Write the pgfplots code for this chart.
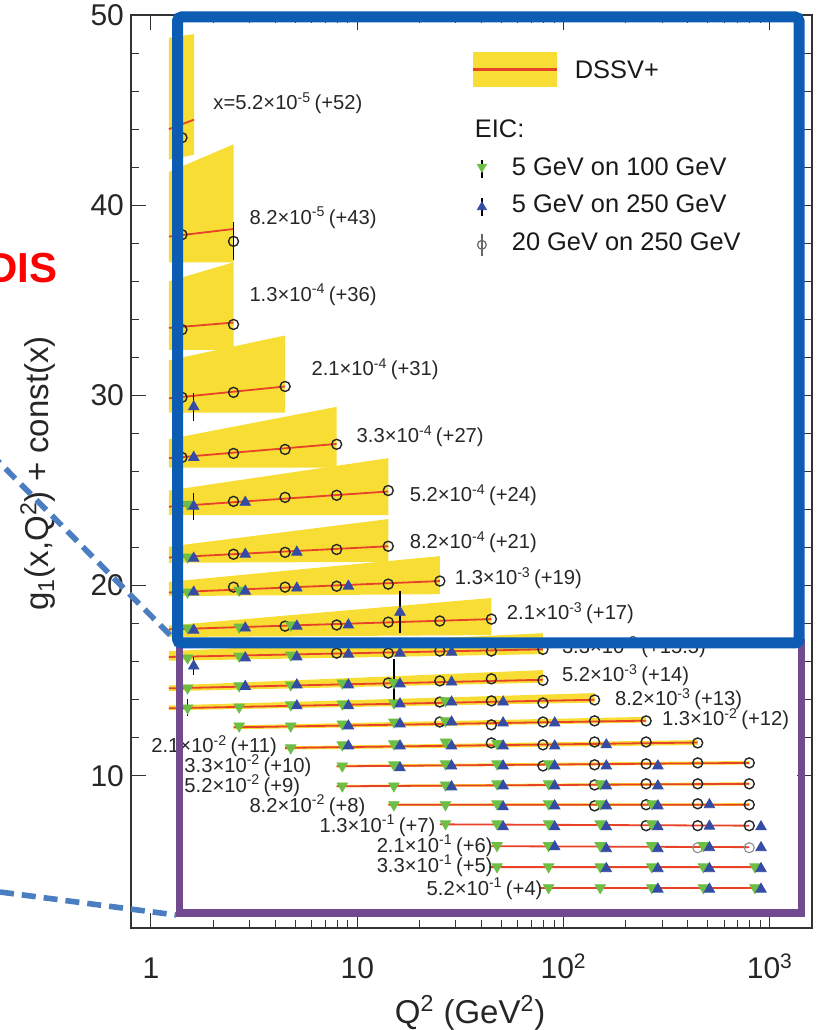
\documentclass[border=0pt]{standalone}
\usepackage{fontspec}
\setmainfont{Liberation Sans}
\usepackage{pgfplots}
\pgfplotsset{compat=1.18}
\definecolor{dssvyellow}{RGB}{248,221,52}
\definecolor{dssvred}{RGB}{232,66,40}
\definecolor{eicgreen}{RGB}{108,190,69}
\definecolor{eicblue}{RGB}{52,76,163}
\definecolor{boxblue}{RGB}{12,92,180}
\definecolor{boxpurple}{RGB}{113,74,143}
\definecolor{dashblue}{RGB}{74,126,193}
\newcommand{\rowfont}{\fontsize{10.1}{11}\selectfont}
\newcommand{\xe}[1]{\texttimes10\textsuperscript{#1}}
\begin{document}
\begin{tikzpicture}
\path[use as bounding box] (0,0) rectangle (408.5pt,515pt);
\begin{axis}[
  at={(65.5pt,51pt)}, anchor=south west,
  scale only axis, width=340.5pt, height=456.5pt,
  xmode=log, xmin=0.8, xmax=1600, ymin=2, ymax=50,
  xtick={1,10,100,1000},
  xticklabels={1,10,10\textsuperscript{2},10\textsuperscript{3}},
  ytick={10,20,30,40,50}, minor y tick num=4,
  tick align=inside, major tick length=7.5pt, minor tick length=4pt,
  tick style={black!80, line width=0.5pt},
  axis line style={black!80, line width=0.6pt},
  /pgf/number format/assume math mode=true,
  tick label style={font=\fontsize{15}{15}\selectfont, text=black!85},
  xticklabel style={anchor=base, yshift=-25.5pt},
  xlabel={Q\textsuperscript{2} (GeV\textsuperscript{2})},
  ylabel={g\textsubscript{1}(x,Q\textsuperscript{2}) + const(x)},
  xlabel style={at={(axis description cs:0.498,-0.093)}, anchor=center, font=\fontsize{16.5}{17}\selectfont, text=black!85},
  ylabel style={at={(axis description cs:-0.1366,0.498)}, anchor=center, font=\fontsize{16.5}{17}\selectfont, text=black!85},
  legend style={at={(rel axis cs:0.505,0.9496)}, anchor=north west, draw=none, fill=none,
     inner sep=0pt, outer sep=0pt, font=\fontsize{12.7}{15}\selectfont,
     column sep=11.5pt, row sep=7pt, nodes={inner sep=0pt, text depth=, text=black!90}},
  legend cell align=left,
]
% ---- DSSV+ bands
\addplot[forget plot, fill=dssvyellow, draw=none] coordinates {(1.222,42.4) (1.618,42.65) (1.618,49.0) (1.222,48.8)} -- cycle;
\addplot[forget plot, fill=dssvyellow, draw=none] coordinates {(1.222,37.0) (2.512,37.0) (2.512,43.2) (1.222,41.75)} -- cycle;
\addplot[forget plot, fill=dssvyellow, draw=none] coordinates {(1.222,32.4) (2.512,32.4) (2.512,37.0) (1.222,36.0)} -- cycle;
\addplot[forget plot, fill=dssvyellow, draw=none] coordinates {(1.222,29.1) (4.467,29.1) (4.467,33.15) (1.222,31.85)} -- cycle;
\addplot[forget plot, fill=dssvyellow, draw=none] coordinates {(1.222,26.2) (7.943,26.2) (7.943,29.4) (1.222,27.7)} -- cycle;
\addplot[forget plot, fill=dssvyellow, draw=none] coordinates {(1.222,23.7) (14.13,23.7) (14.13,26.7) (1.222,25.0)} -- cycle;
\addplot[forget plot, fill=dssvyellow, draw=none] coordinates {(1.222,21.2) (14.13,21.25) (14.13,23.5) (1.222,22.05)} -- cycle;
\addplot[forget plot, fill=dssvyellow, draw=none] coordinates {(1.222,19.45) (25.12,19.55) (25.12,21.55) (1.222,20.2)} -- cycle;
\addplot[forget plot, fill=dssvyellow, draw=none] coordinates {(1.222,17.3) (44.67,17.4) (44.67,19.35) (1.222,17.9)} -- cycle;
\addplot[forget plot, fill=dssvyellow, draw=none] coordinates {(1.222,16.05) (79.43,16.4) (79.43,17.5) (1.222,16.55)} -- cycle;
\addplot[forget plot, fill=dssvyellow, draw=none] coordinates {(1.222,14.45) (79.43,14.9) (79.43,15.56) (1.222,14.75)} -- cycle;
\addplot[forget plot, fill=dssvyellow, draw=none] coordinates {(1.222,13.45) (141.3,13.85) (141.3,14.35) (1.222,13.7)} -- cycle;
\addplot[forget plot, fill=dssvyellow, draw=none] coordinates {(2.512,12.45) (251.2,12.8) (251.2,13.1) (2.512,12.65)} -- cycle;
\addplot[forget plot, fill=dssvyellow, draw=none] coordinates {(4.467,11.38) (446.7,11.62) (446.7,11.88) (4.467,11.55)} -- cycle;
\addplot[forget plot, fill=dssvyellow, draw=none] coordinates {(7.943,10.45) (794.3,10.6) (794.3,10.78) (7.943,10.58)} -- cycle;
\addplot[forget plot, fill=dssvyellow, draw=none] coordinates {(7.943,9.4) (794.3,9.5) (794.3,9.66) (7.943,9.52)} -- cycle;
\addplot[forget plot, fill=dssvyellow, draw=none] coordinates {(14.13,8.42) (794.3,8.42) (794.3,8.56) (14.13,8.54)} -- cycle;
% ---- DSSV+ central curves
\addplot[forget plot, dssvred, line width=0.9pt, unbounded coords=jump] coordinates {
(1.222,44.0)(1.618,44.5) (1,nan)
(1.222,38.35)(2.512,38.75) (1,nan)
(1.222,33.55)(2.512,33.83) (1,nan)
(1.222,29.85)(4.467,30.47) (1,nan)
(1.222,26.7)(7.943,27.45) (1,nan)
(1.222,24.15)(14.13,24.95) (1,nan)
(1.222,21.48)(14.13,22.07) (1,nan)
(1.222,19.64)(25.12,20.24) (1,nan)
(1.222,17.7)(44.67,18.24) (1,nan)
(1.222,16.25)(79.43,16.65) (1,nan)
(1.222,14.6)(79.43,15.05) (1,nan)
(1.222,13.55)(141.3,14.0) (1,nan)
(2.512,12.55)(251.2,12.9) (1,nan)
(4.467,11.47)(446.7,11.75) (1,nan)
(7.943,10.5)(794.3,10.68) (1,nan)
(7.943,9.45)(794.3,9.58) (1,nan)
(14.13,8.48)(794.3,8.48) (1,nan)
(25.12,7.45)(794.3,7.38) (1,nan)
(44.67,6.3)(794.3,6.25) (1,nan)
(43.7,5.2)(818,5.2) (1,nan)
(76.4,4.1)(818,4.1)
};
% ---- error bars
\addplot[forget plot, draw=none, mark=none, error bars/.cd, y dir=both, y explicit, error mark=none,
  error bar style={black, line width=0.7pt}] coordinates {
(2.512,38.1) +- (0,1.0)
(1.611,29.4) +- (0,0.75)
(1.611,24.17) +- (0,0.7)
(16.11,18.6) +- (0,1.1)
(1.611,15.77) +- (0,0.47)
(15.05,14.9) +- (0,1.25)
(1.505,13.57) +- (0,0.45)
};
% ---- 20 GeV on 250 GeV (open circles)
\addplot[forget plot, only marks, mark=o, mark size=2.5pt, mark options={draw=black!85, line width=0.7pt}] coordinates {
(1.413,43.55)
(1.413,38.45)(2.512,38.1)
(1.413,33.46)(2.512,33.73)
(1.413,29.9)(2.512,30.16)(4.467,30.47)
(1.413,26.74)(2.512,26.95)(4.467,27.16)(7.943,27.43)
(2.512,24.43)(4.467,24.64)(7.943,24.75)(14.13,25.0)
(2.512,21.65)(4.467,21.75)(7.943,21.9)(14.13,22.07)
(2.512,19.92)(4.467,19.92)(7.943,19.97)(14.13,20.08)(25.12,20.24)
(4.467,17.87)(7.943,17.93)(14.13,18.08)(25.12,18.14)(44.67,18.24)
(7.943,16.45)(14.13,16.45)(25.12,16.56)(44.67,16.56)(79.43,16.65)
(14.13,14.88)(25.12,14.99)(44.67,15.1)(79.43,15.02)
(25.12,13.88)(44.67,13.94)(79.43,13.83)(141.3,13.99)
(25.12,12.83)(44.67,12.68)(79.43,12.83)(141.3,12.89)(251.2,12.89)
(44.67,11.73)(79.43,11.63)(141.3,11.78)(251.2,11.78)(446.7,11.73)
(79.43,10.52)(141.3,10.58)(251.2,10.63)(446.7,10.68)(794.3,10.68)
(141.3,9.52)(251.2,9.58)(446.7,9.58)(794.3,9.58)
(141.3,8.42)(251.2,8.48)(446.7,8.53)(794.3,8.48)
(251.2,7.38)(446.7,7.38)(794.3,7.38)
};
\addplot[forget plot, only marks, mark=o, mark size=2.5pt, mark options={draw=black!45, line width=0.55pt}] coordinates {
(446.7,6.22)(794.3,6.22)
};
% ---- 5 GeV on 100 GeV (green down triangles)
\addplot[forget plot, only marks, mark=triangle*, mark size=3pt, mark options={rotate=180, fill=eicgreen, draw=eicgreen}] coordinates {
(1.505,24.28)
(1.505,21.5)
(1.505,19.66)(2.675,19.76)
(1.505,17.77)(2.675,17.82)(4.757,17.93)
(1.505,16.2)(2.675,16.3)(4.757,16.35)
(1.505,14.62)(2.675,14.73)(4.757,14.78)(8.459,14.88)(15.05,14.9)
(1.505,13.57)(2.675,13.62)(4.757,13.73)(8.459,13.78)(15.05,13.83)(26.75,13.94)
(2.675,12.62)(4.757,12.62)(8.459,12.73)(15.05,12.83)(26.75,12.89)
(4.757,11.47)(8.459,11.63)(15.05,11.68)(26.75,11.78)(47.57,11.7)
(8.459,10.52)(15.05,10.58)(26.75,10.63)(47.57,10.63)(84.59,10.63)
(8.459,9.47)(15.05,9.47)(26.75,9.52)(47.57,9.58)(84.59,9.58)(150.5,9.58)
(15.05,8.48)(26.75,8.48)(47.57,8.53)(84.59,8.53)(150.5,8.53)(267.5,8.53)
(26.75,7.48)(47.57,7.48)(84.59,7.48)(150.5,7.48)(267.5,7.48)
(47.57,6.33)(84.59,6.33)(150.5,6.33)(267.5,6.33)(475.7,6.33)
(47.57,5.22)(84.59,5.22)(150.5,5.22)(267.5,5.22)(475.7,5.22)(845.9,5.22)
(84.59,4.12)(150.5,4.12)(267.5,4.12)(475.7,4.12)(845.9,4.12)
};
% ---- 5 GeV on 250 GeV (blue up triangles)
\addplot[forget plot, only marks, mark=triangle*, mark size=3pt, mark options={fill=eicblue, draw=eicblue}] coordinates {
(1.611,29.4)
(1.611,26.74)
(1.611,24.17)(2.864,24.38)
(1.611,21.44)(2.864,21.65)(5.092,21.76)
(1.611,19.66)(2.864,19.71)(5.092,19.87)(9.055,19.97)
(1.611,17.66)(2.864,17.77)(5.092,17.87)(9.055,17.93)(16.11,18.6)
(1.611,15.77)(2.864,16.2)(5.092,16.25)(9.055,16.4)(16.11,16.45)(28.64,16.5)
(2.864,14.7)(5.092,14.78)(9.055,14.78)(16.11,14.83)(28.64,14.93)
(5.092,13.68)(9.055,13.68)(16.11,13.78)(28.64,13.88)(50.92,13.88)
(9.055,12.62)(16.11,12.73)(28.64,12.83)(50.92,12.78)(90.55,12.78)
(9.055,11.57)(16.11,11.57)(28.64,11.57)(50.92,11.57)(90.55,11.57)(161.1,11.63)
(16.11,10.42)(28.64,10.52)(50.92,10.52)(90.55,10.52)(161.1,10.52)(286.4,10.52)
(28.64,9.42)(50.92,9.47)(90.55,9.47)(161.1,9.47)(286.4,9.47)
(50.92,8.37)(90.55,8.42)(161.1,8.42)(286.4,8.42)(509.2,8.48)
(50.92,7.32)(90.55,7.32)(161.1,7.32)(286.4,7.32)(509.2,7.35)(905.5,7.32)
(90.55,6.27)(161.1,6.17)(286.4,6.17)(509.2,6.22)(905.5,6.22)
(161.1,5.12)(286.4,5.12)(509.2,5.12)(905.5,5.12)
(286.4,4.04)(509.2,4.04)(905.5,4.04)
};
% ---- legend
\addlegendimage{legend image code/.code={
   \fill[dssvyellow,overlay] (-1pt,-1.5pt) rectangle (40.5pt,15.5pt);
   \fill[dssvred,overlay] (-1pt,6.6pt) rectangle (40.5pt,7.4pt);
   \path[draw=none,fill=none] (0pt,0pt) rectangle (7pt,0.01pt);}}
\addlegendentry{\hspace*{31.5pt}\rule[-13.5pt]{0pt}{10pt}DSSV+}
\addlegendimage{empty legend}
\addlegendentry{\hspace*{-18.5pt}\rule[-3pt]{0pt}{10pt}EIC:}
\addlegendimage{legend image code/.code={
   \path[draw=none,fill=none] (0pt,0pt) rectangle (7pt,0.01pt);
   \draw[black,line width=0.6pt] (3.5pt,-4.5pt) -- (3.5pt,4.5pt);
   \draw plot[mark=triangle*, mark size=2.6pt, mark options={rotate=180, fill=eicgreen, draw=eicgreen}] coordinates {(3.5pt,1.2pt)};}}
\addlegendentry{\rule[-3pt]{0pt}{10pt}5 GeV on 100 GeV}
\addlegendimage{legend image code/.code={
   \path[draw=none,fill=none] (0pt,0pt) rectangle (7pt,0.01pt);
   \draw[black,line width=0.6pt] (3.5pt,-4.5pt) -- (3.5pt,4.5pt);
   \draw plot[mark=triangle*, mark size=2.6pt, mark options={fill=eicblue, draw=eicblue}] coordinates {(3.5pt,0pt)};}}
\addlegendentry{\rule[-3pt]{0pt}{10pt}5 GeV on 250 GeV}
\addlegendimage{legend image code/.code={
   \path[draw=none,fill=none] (0pt,0pt) rectangle (7pt,0.01pt);
   \draw[black!60,line width=0.6pt] (3.5pt,-5.5pt) -- (3.5pt,5.5pt);
   \draw plot[mark=o, mark size=2.2pt, mark options={draw=black!60, fill=white, line width=0.6pt}] coordinates {(3.5pt,0pt)};}}
\addlegendentry{\rule[-3pt]{0pt}{10pt}20 GeV on 250 GeV}
% ---- row labels
\begin{scope}[every node/.style={anchor=west, font=\rowfont, text=black!85, inner sep=0pt}]
\node at (axis cs:2.0,45.38) {x=5.2\xe{-5}\,(+52)};
\node at (axis cs:2.99,39.34) {8.2\xe{-5}\,(+43)};
\node at (axis cs:2.99,35.3) {1.3\xe{-4}\,(+36)};
\node at (axis cs:5.98,31.36) {2.1\xe{-4}\,(+31)};
\node at (axis cs:9.89,27.85) {3.3\xe{-4}\,(+27)};
\node at (axis cs:17.9,24.75) {5.2\xe{-4}\,(+24)};
\node at (axis cs:17.9,22.28) {8.2\xe{-4}\,(+21)};
\node at (axis cs:29.6,20.39) {1.3\xe{-3}\,(+19)};
\node at (axis cs:52.9,18.56) {2.1\xe{-3}\,(+17)};
\node at (axis cs:97.8,16.77) {3.3\xe{-3}\,(+15.5)};
\node at (axis cs:97.8,15.30) {5.2\xe{-3}\,(+14)};
\node at (axis cs:177,14.04) {8.2\xe{-3}\,(+13)};
\node at (axis cs:299,12.99) {1.3\xe{-2}\,(+12)};
\node at (axis cs:1.0,11.57) {2.1\xe{-2}\,(+11)};
\node at (axis cs:1.446,10.53) {3.3\xe{-2}\,(+10)};
\node at (axis cs:1.446,9.48) {5.2\xe{-2}\,(+9)};
\node at (axis cs:2.99,8.43) {8.2\xe{-2}\,(+8)};
\node at (axis cs:6.54,7.38) {1.3\xe{-1}\,(+7)};
\node at (axis cs:12.37,6.33) {2.1\xe{-1}\,(+6)};
\node at (axis cs:12.37,5.28) {3.3\xe{-1}\,(+5)};
\node at (axis cs:21.6,4.07) {5.2\xe{-1}\,(+4)};
\end{scope}
\end{axis}
% ---- slide overlays (pixel coordinates of the reference)
\begin{scope}[shift={(0pt,515pt)}, x=0.5pt, y=-0.5pt]
\draw[boxpurple, line width=3.6pt] (179.5,643) rectangle (801.5,913);
\draw[boxblue, line width=5.5pt, rounded corners=2pt] (177.5,17) rectangle (799,643);
\draw[dashblue, line width=2.8pt, dash pattern=on 7pt off 4pt] (-10,453) -- (172,637);
\draw[dashblue, line width=2.8pt, dash pattern=on 7pt off 4pt] (0,892) -- (176,915);
\node[anchor=east, inner sep=0pt, text=red, font=\fontsize{21}{21}\selectfont\bfseries] at (58,268) {DIS};
\end{scope}
\end{tikzpicture}
\end{document}
